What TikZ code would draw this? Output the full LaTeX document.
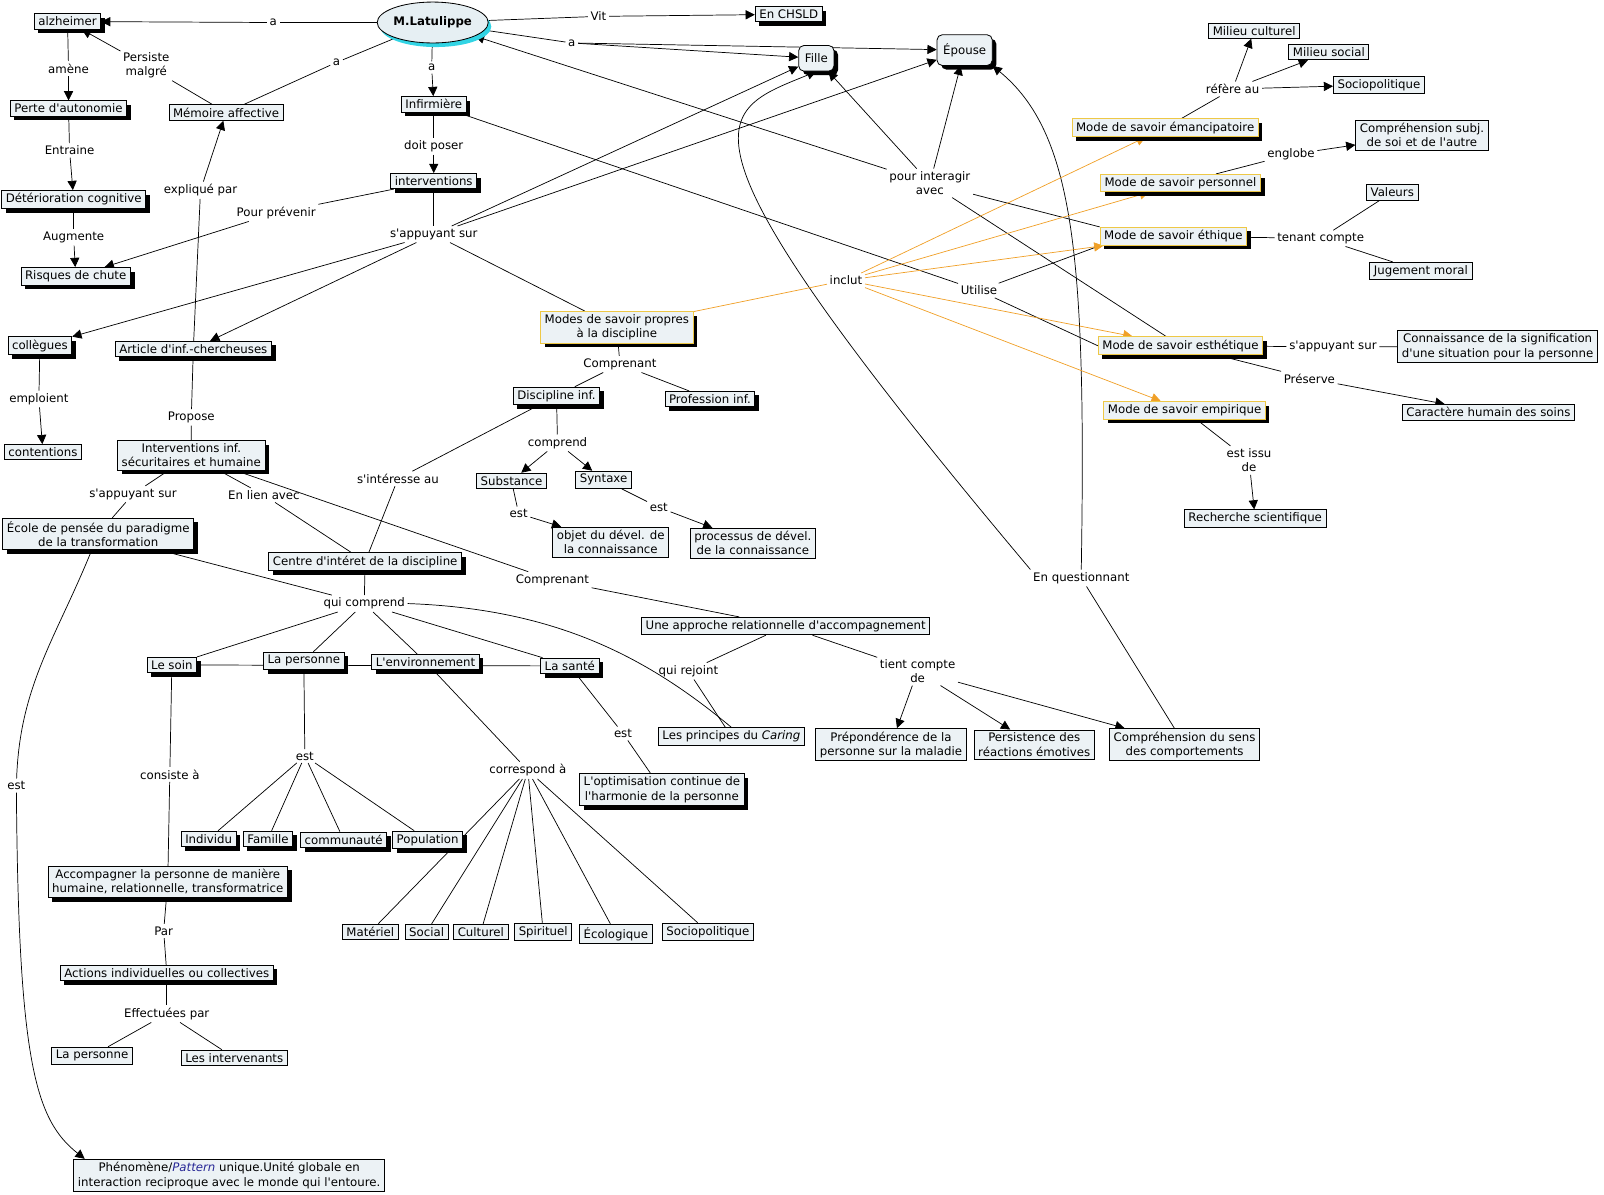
\documentclass[tikz,border=0pt]{standalone}
\usepackage{fontspec}
\setmainfont{DejaVu Sans}[Ligatures=TeXOff]
\usepackage{xcolor}
\usetikzlibrary{arrows.meta,shapes.geometric,shadows,backgrounds}
\definecolor{boxfill}{RGB}{236,242,245}
\definecolor{ellfill}{RGB}{230,239,243}
\definecolor{modeyellow}{RGB}{238,200,70}
\definecolor{inclorange}{RGB}{240,160,40}
\definecolor{ellshadow}{RGB}{50,212,228}
\definecolor{pattblue}{RGB}{40,40,150}

\begin{document}
\begin{tikzpicture}[x=1pt,y=-1pt,
  every node/.style={font=\fontsize{11.5}{14}\selectfont, align=center},
  concept/.style={draw, fill=boxfill, line width=0.8pt, inner xsep=4pt, inner ysep=3pt},
  shad/.style={concept, drop shadow={shadow xshift=4pt, shadow yshift=-4pt, fill=black, opacity=1}},
  modebox/.style={shad, draw=modeyellow},
  roundbox/.style={shad, rounded corners=5pt, inner xsep=6pt},
  lbl/.style={inner sep=2.5pt},
  link/.style={draw, line width=0.7pt},
  arr/.style={link, -{Triangle[length=9pt,width=9pt]}},
  incl/.style={draw=inclorange, line width=0.7pt, -{Triangle[length=9pt,width=9pt]}}
]
\useasboundingbox (0,0) rectangle (1568,1168);

% concepts
\node[ellipse, draw, fill=ellfill, line width=0.8pt, inner sep=0pt, minimum width=94pt, minimum height=40pt,
  font=\fontsize{11.5}{14}\selectfont\bfseries,
  drop shadow={shadow xshift=3pt, shadow yshift=-4pt, fill=ellshadow, opacity=1}] (mlat) at (423,22) {M.Latulippe};
\node[shad] (alz) at (66,21) {alzheimer};
\node[shad] (perte) at (67,106) {Perte d'autonomie};
\node[shad] (deter) at (72,195) {Détérioration cognitive};
\node[shad] (risques) at (74,270) {Risques de chute};
\node[concept] (memoire) at (221,110) {Mémoire affective};
\node[shad] (infirm) at (424,102) {Infirmière};
\node[shad] (interv) at (424,177) {interventions};
\node[shad] (chsld) at (771,14) {En CHSLD};
\node[roundbox, minimum height=25pt] (fille) at (798,57) {Fille};
\node[roundbox, minimum height=30pt] (epouse) at (943,49) {Épouse};
\node[shad] (colleg) at (39,338) {collègues};
\node[concept] (content) at (42,442) {contentions};
\node[shad] (article) at (189,341) {Article d'inf.-chercheuses};
\node[shad] (intinf) at (187,445) {Interventions inf.\\sécuritaires et humaine};
\node[shad] (ecole) at (96,522) {École de pensée du paradigme\\de la transformation};
\node[shad] (centre) at (357,549) {Centre d'intéret de la discipline};
\node[modebox] (modes) at (603,320) {Modes de savoir propres\\à la discipline};
\node[shad] (discip) at (544,387) {Discipline inf.};
\node[shad] (prof) at (694,390) {Profession inf.};
\node[concept] (subst) at (500,470) {Substance};
\node[concept] (synt) at (590,469) {Syntaxe};
\node[concept] (objet) at (597,530) {objet du dével. de\\la connaissance};
\node[concept] (process) at (736,531) {processus de dével.\\de la connaissance};
\node[concept] (approche) at (768,612) {Une approche relationnelle d'accompagnement};
\node[concept] (caring) at (715,720) {Les principes du \textit{Caring}};
\node[concept] (prepond) at (871,728) {Prépondérence de la\\personne sur la maladie};
\node[concept] (persist) at (1011,728) {Persistence des\\réactions émotives};
\node[concept] (comprsens) at (1158,728) {Compréhension du sens\\des comportements};
\node[shad] (soin) at (168,650) {Le soin};
\node[shad] (pers) at (297,646) {La personne};
\node[shad] (envir) at (416,647) {L'environnement};
\node[shad] (sante) at (557,651) {La santé};
\node[shad] (optim) at (647,772) {L'optimisation continue de\\l'harmonie de la personne};
\node[shad] (indiv) at (204,820) {Individu};
\node[shad] (famille) at (262,820) {Famille};
\node[shad] (commun) at (336,821) {communauté};
\node[shad] (popul) at (418,821) {Population};
\node[shad] (accomp) at (164,862) {Accompagner la personne de manière\\humaine, relationnelle, transformatrice};
\node[shad] (actions) at (163,951) {Actions individuelles ou collectives};
\node[concept] (pers2) at (90,1032) {La personne};
\node[concept] (interv2) at (229,1034) {Les intervenants};
\node[concept] (pheno) at (224,1149) {Phénomène/\textit{\color{pattblue}Pattern} unique.Unité globale en\\interaction reciproque avec le monde qui l'entoure.};
\node[concept] (mater) at (362,911) {Matériel};
\node[concept] (social) at (417,911) {Social};
\node[concept] (cultur) at (470,911) {Culturel};
\node[concept] (spirit) at (531,911) {Spirituel};
\node[concept] (ecolo) at (602,913) {Écologique};
\node[concept] (sociop) at (692,911) {Sociopolitique};
\node[modebox] (emanc) at (1139,125) {Mode de savoir émancipatoire};
\node[modebox] (person) at (1154,179) {Mode de savoir personnel};
\node[modebox] (ethiq) at (1147,231) {Mode de savoir éthique};
\node[modebox] (esthet) at (1154,338) {Mode de savoir esthétique};
\node[modebox] (empir) at (1158,401) {Mode de savoir empirique};
\node[concept] (mcult) at (1226,30) {Milieu culturel};
\node[concept] (msoc) at (1299,51) {Milieu social};
\node[concept] (msocp) at (1348,83) {Sociopolitique};
\node[concept] (comprsubj) at (1390,132) {Compréhension subj.\\de soi et de l'autre};
\node[concept] (valeurs) at (1361,188) {Valeurs};
\node[concept] (jugement) at (1389,265) {Jugement moral};
\node[concept] (connsig) at (1464,339) {Connaissance de la signification\\d'une situation pour la personne};
\node[concept] (caract) at (1455,403) {Caractère humain des soins};
\node[concept] (recherche) at (1227,507) {Recherche scientifique};

% linking phrases
\node[lbl] (la1) at (267,22) {a};
\node[lbl] (lvit) at (585,16) {Vit};
\node[lbl] (la2) at (559,42) {a};
\node[lbl] (la3) at (329,61) {a};
\node[lbl] (la4) at (422,66) {a};
\node[lbl] (lamene) at (67,67) {amène};
\node[lbl] (lpersiste) at (143,64) {Persiste\\malgré};
\node[lbl] (lentraine) at (68,147) {Entraine};
\node[lbl] (laugmente) at (72,232) {Augmente};
\node[lbl] (ldoit) at (424,143) {doit poser};
\node[lbl] (lprevenir) at (270,208) {Pour prévenir};
\node[lbl] (lexplique) at (196,186) {expliqué par};
\node[lbl] (lappui) at (424,229) {s'appuyant sur};
\node[lbl] (lemploient) at (38,390) {emploient};
\node[lbl] (lpropose) at (187,408) {Propose};
\node[lbl] (lappuib) at (130,483) {s'appuyant sur};
\node[lbl] (llien) at (258,484) {En lien avec};
\node[lbl] (linteresse) at (389,468) {s'intéresse au};
\node[lbl] (lquicomp) at (356,590) {qui comprend};
\node[lbl] (lcomprb) at (540,567) {Comprenant};
\node[lbl] (lcompra) at (606,356) {Comprenant};
\node[lbl] (lcomprend) at (545,433) {comprend};
\node[lbl] (lesta) at (507,502) {est};
\node[lbl] (lestb) at (644,496) {est};
\node[lbl] (lrejoint) at (673,656) {qui rejoint};
\node[lbl] (ltient) at (897,656) {tient compte\\de};
\node[lbl] (lquest) at (1057,565) {En questionnant};
\node[lbl] (linteragir) at (909,179) {pour interagir\\avec};
\node[lbl] (lutilise) at (957,284) {Utilise};
\node[lbl] (linclut) at (827,274) {inclut};
\node[lbl] (lrefere) at (1205,87) {réfère au};
\node[lbl] (lenglobe) at (1262,151) {englobe};
\node[lbl] (ltenant) at (1291,233) {tenant compte};
\node[lbl] (lappuic) at (1303,339) {s'appuyant sur};
\node[lbl] (lpreserve) at (1280,370) {Préserve};
\node[lbl] (lissu) at (1221,450) {est issu\\de};
\node[lbl] (lconsiste) at (166,757) {consiste à};
\node[lbl] (lestc) at (298,739) {est};
\node[lbl] (lcorresp) at (516,753) {correspond à};
\node[lbl] (lestd) at (609,717) {est};
\node[lbl] (lpar) at (160,910) {Par};
\node[lbl] (leffect) at (163,991) {Effectuées par};
\node[lbl] (leste) at (16,768) {est};

\begin{scope}[on background layer]
  \draw[link] (mlat) -- (la1); \draw[arr] (la1) -- (alz);
  \draw[link] (mlat) -- (lvit); \draw[arr] (lvit) -- (chsld);
  \draw[link] (mlat) -- (la2);
  \draw[arr] (la2) -- (fille); \draw[arr] (la2) -- (epouse);
  \draw[link] (mlat) -- (la3) -- (memoire);
  \draw[link] (mlat) -- (la4); \draw[arr] (la4) -- (infirm);
  \draw[link] (alz) -- (lamene); \draw[arr] (lamene) -- (perte);
  \draw[link] (perte) -- (lentraine); \draw[arr] (lentraine) -- (deter);
  \draw[link] (deter) -- (laugmente); \draw[arr] (laugmente) -- (risques);
  \draw[link] (memoire) -- (lpersiste); \draw[arr] (lpersiste) -- (alz);
  \draw[link] (infirm) -- (ldoit); \draw[arr] (ldoit) -- (interv);
  \draw[link] (interv) -- (lprevenir); \draw[arr] (lprevenir) -- (risques);
  \draw[link] (interv) -- (lappui);
  \foreach \t in {colleg,article,fille,epouse} \draw[arr] (lappui) -- (\t);
  \draw[link] (lappui) -- (modes);
  \draw[link] (article) -- (lexplique); \draw[arr] (lexplique) -- (memoire);
  \draw[link] (colleg) -- (lemploient); \draw[arr] (lemploient) -- (content);
  \draw[link] (article) -- (lpropose) -- (intinf);
  \draw[link] (intinf) -- (lappuib) -- (ecole);
  \draw[link] (intinf) -- (llien) -- (centre);
  \draw[link] (intinf) -- (lcomprb) -- (approche);
  \draw[link] (discip) -- (linteresse) -- (centre);
  \draw[link] (centre) -- (lquicomp);
  \draw[link] (ecole) -- (lquicomp);
  \foreach \t in {soin,pers,envir,sante} \draw[link] (lquicomp) -- (\t);
  \draw[link] (lquicomp.east) .. controls (540,595) and (630,640) .. (caring.north);
  \draw[link] (soin) -- (sante);
  \draw[link] (soin) -- (lconsiste) -- (accomp);
  \draw[link] (pers) -- (lestc);
  \foreach \t in {indiv,famille,commun,popul} \draw[link] (lestc) -- (\t);
  \draw[link] (envir) -- (lcorresp);
  \foreach \t in {mater,social,cultur,spirit,ecolo,sociop} \draw[link] (lcorresp) -- (\t);
  \draw[link] (sante) -- (lestd) -- (optim);
  \draw[link] (accomp) -- (lpar) -- (actions);
  \draw[link] (actions) -- (leffect);
  \draw[link] (leffect) -- (pers2); \draw[link] (leffect) -- (interv2);
  \draw[link] (ecole) to[out=-112,in=88] (leste);
  \draw[arr] (leste) .. controls (18,1040) and (35,1095) .. ([xshift=11pt]pheno.north west);
  \draw[link] (modes) -- (lcompra);
  \draw[link] (lcompra) -- (discip); \draw[link] (lcompra) -- (prof);
  \draw[link] (discip) -- (lcomprend);
  \draw[arr] (lcomprend) -- (subst); \draw[arr] (lcomprend) -- (synt);
  \draw[link] (subst) -- (lesta); \draw[arr] (lesta) -- (objet);
  \draw[link] (synt) -- (lestb); \draw[arr] (lestb) -- (process);
  \draw[link] (approche) -- (lrejoint) -- (caring);
  \draw[link] (approche) -- (ltient);
  \foreach \t in {prepond,persist,comprsens} \draw[arr] (ltient) -- (\t);
  \draw[link] (comprsens) -- (lquest);
  \draw[arr] (lquest.north west) .. controls (640,120) and (700,110) .. (fille.south);
  \draw[arr] (lquest.north) .. controls (1062,250) and (1050,130) .. (epouse.south east);
  \draw[link] (ethiq.north west) -- (linteragir); \draw[link] (esthet) -- (linteragir);
  \foreach \t in {mlat,fille,epouse} \draw[arr] (linteragir) -- (\t);
  \draw[link] (infirm) -- (lutilise);
  \draw[link] (lutilise) -- (ethiq.south west); \draw[link] (lutilise) -- (esthet.west);
  \draw[draw=inclorange, line width=0.7pt] (modes) -- (linclut);
  \foreach \t in {emanc,person,ethiq,esthet,empir} \draw[incl] (linclut) -- (\t);
  \draw[link] (emanc) -- (lrefere);
  \foreach \t in {mcult,msoc,msocp} \draw[arr] (lrefere) -- (\t);
  \draw[link] (person) -- (lenglobe); \draw[arr] (lenglobe) -- (comprsubj);
  \draw[link] (ethiq) -- (ltenant);
  \draw[link] (ltenant) -- (valeurs); \draw[link] (ltenant) -- (jugement);
  \draw[link] (esthet) -- (lappuic) -- (connsig);
  \draw[link] (esthet) -- (lpreserve); \draw[arr] (lpreserve) -- (caract);
  \draw[link] (empir) -- (lissu); \draw[arr] (lissu) -- (recherche);
\end{scope}
\end{tikzpicture}
\end{document}
